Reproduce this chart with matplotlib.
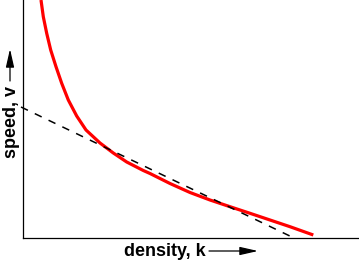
import matplotlib
matplotlib.use("Agg")
from matplotlib import pyplot as plt

# values (density k vs speed v, arbitrary units)
density = [18, 20.3, 23.7, 27.7, 33, 38.7, 45.3, 53.7, 63, 77, 90.3, 103.7,
           120.3, 127, 147, 167, 187, 207, 227, 247, 267, 290.3]
speed = [238, 221.3, 204.7, 188, 171.3, 154.7, 138, 122, 108, 95, 85, 76,
         67.5, 64.5, 54.5, 45.5, 38, 31.3, 24.7, 18, 11.3, 3]

tangent_k = [-2, 271]
tangent_v = [131, 0]

W, H = 359, 262
fig = plt.figure(figsize=(W / 100, H / 100), dpi=100)
ax = fig.add_axes([23 / W, (H - 238) / H, (W - 23) / W, 238 / H])

ax.plot(density, speed, color="#ff0000", lw=2.3, solid_capstyle="butt",
        solid_joinstyle="round")
ax.plot(tangent_k, tangent_v, color="black", lw=1.1, dashes=(5, 5), clip_on=False)

ax.set_xlim(0, 336)
ax.set_ylim(0, 238)
ax.set_xticks([])
ax.set_yticks([])
for s in ("top", "right"):
    ax.spines[s].set_visible(False)
for s in ("left", "bottom"):
    ax.spines[s].set_linewidth(0.9)

font = dict(family="Liberation Sans", weight="bold", size=13)
fig.text(124 / W, (H - 251) / H, "density, k", ha="left", va="center", **font)
fig.text(12 / W, (H - 122) / H, "speed, v", ha="center", va="center", rotation=90, **font)

arrow = dict(arrowstyle="-|>,head_length=1.1,head_width=0.25", color="black", lw=0.9,
             shrinkA=0, shrinkB=0)
ax.annotate("", xy=(258, H - 251), xytext=(209, H - 251),
            xycoords="figure pixels", textcoords="figure pixels", arrowprops=arrow)
ax.annotate("", xy=(10, H - 49), xytext=(10, H - 81),
            xycoords="figure pixels", textcoords="figure pixels", arrowprops=arrow)

fig.savefig("out.png", dpi=100)
